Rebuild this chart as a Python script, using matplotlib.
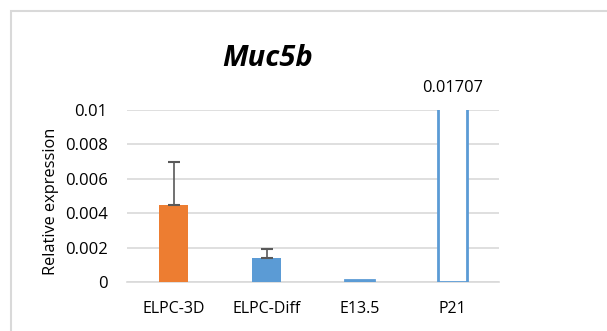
import matplotlib
matplotlib.use("Agg")
import matplotlib.pyplot as plt
from matplotlib.patches import Rectangle
import numpy as np

categories = ["ELPC-3D", "ELPC-Diff", "E13.5", "P21"]
values = [0.0045, 0.00138, 0.0001, 0.01707]
errors = [0.0025, 0.00052, 0.0, 0.0]
yticks = [0, 0.002, 0.004, 0.006, 0.008, 0.01]
ytick_labels = ["0", "0.002", "0.004", "0.006", "0.008", "0.01"]

plt.rcParams['font.family'] = ['Open Sans', 'DejaVu Sans']

fig = plt.figure(figsize=(6.07, 3.31), dpi=100)
fig.patches.append(Rectangle((11 / 607, -0.1), 1.2, 1 - 11 / 331 + 0.1,
                             transform=fig.transFigure, fill=False,
                             edgecolor='#d9d9d9', linewidth=1.5))

ax = fig.add_axes([127 / 607, 1 - 282 / 331, 372 / 607, 172 / 331])
x = np.arange(len(categories))
orange = '#ed7d31'
blue = '#5b9bd5'

ax.bar(x[0], values[0], width=0.32, color=orange, zorder=3)
ax.bar(x[1], values[1], width=0.32, color=blue, zorder=3)
ax.bar(x[2:], values[2:], width=0.32, facecolor='white', edgecolor=blue,
       linewidth=2, zorder=3)
ax.errorbar(x[:2], values[:2], yerr=[[0, 0], errors[:2]], fmt='none',
            ecolor='#595959', elinewidth=1.2, capsize=4.5, capthick=1.5, zorder=4)

ax.set_xlim(-0.5, 3.5)
ax.set_ylim(0, 0.01)
ax.set_yticks(yticks)
ax.set_yticklabels(ytick_labels, fontsize=12)
ax.set_xticks(x)
ax.set_xticklabels(categories, fontsize=11.5)
ax.tick_params(axis='both', length=0, colors='black')
ax.tick_params(axis='y', pad=14)
ax.tick_params(axis='x', pad=14)
ax.grid(axis='y', color='#d9d9d9', linewidth=1.2, zorder=0)
for s in ['top', 'right', 'left']:
    ax.spines[s].set_visible(False)
ax.spines['bottom'].set_color('#d9d9d9')
ax.spines['bottom'].set_linewidth(1.2)

ax.set_ylabel("Relative expression", fontsize=11.8)
ax.yaxis.set_label_coords(-0.183, 0.47)
ax.text(x[3], 0.0108, f"{values[3]:.5f}", ha='center', va='bottom',
        fontsize=11.8, clip_on=False)
fig.text(268 / 607, 1 - 58 / 331, "Muc5b", ha='center', va='center',
         fontsize=21, fontweight='bold', fontstyle='italic')

fig.savefig("out.png", dpi=100)
